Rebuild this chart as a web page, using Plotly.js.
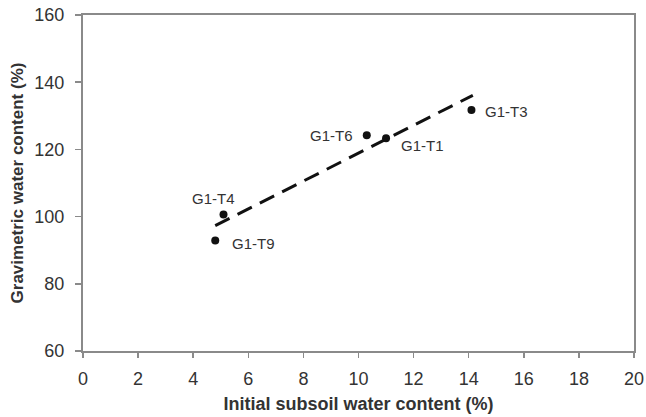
<!DOCTYPE html>
<html>
<head>
<meta charset="utf-8">
<script src="https://cdn.plot.ly/plotly-3.0.1.min.js"></script>
<style>html,body{margin:0;padding:0;background:#fff;}#chart{width:646px;height:417px;}</style>
</head>
<body>
<div id="chart"></div>
<script>
// Data
var sampleNames = ["G1-T3", "G1-T1", "G1-T6", "G1-T4", "G1-T9"];
var subsoilWater = [14.1, 11.0, 10.3, 5.1, 4.8];
var gravimetricWater = [131.7, 123.3, 124.2, 100.6, 92.9];
// dashed fitted line, endpoints as drawn
var fitX = [4.8, 14.15];
var fitY = [97.3, 136.1];
// label offsets (pixels) relative to points
var labelAnchor = ["left", "left", "right", "center", "left"];
var labelDx = [12, 13, -12, -10, 15];
var labelDy = [-1, -7, 0, 16, -3];

var xTicks = [0, 2, 4, 6, 8, 10, 12, 14, 16, 18, 20];
var yTicks = [60, 80, 100, 120, 140, 160];

var fontFam = "Liberation Sans, Arial, sans-serif";

var traces = [
  {
    x: fitX, y: fitY, mode: "lines", type: "scatter",
    line: {color: "#111", width: 3, dash: "16px,9px"},
    hoverinfo: "skip", showlegend: false
  },
  {
    x: subsoilWater, y: gravimetricWater, mode: "markers", type: "scatter",
    marker: {color: "#111", size: 8},
    showlegend: false
  }
];

var annotations = sampleNames.map(function(n, i) {
  return {
    x: subsoilWater[i], y: gravimetricWater[i], xref: "x", yref: "y",
    text: n, showarrow: false, xanchor: labelAnchor[i], yanchor: "middle",
    xshift: labelDx[i], yshift: labelDy[i],
    font: {family: fontFam, size: 15, color: "#333"}
  };
});

var layout = {
  width: 646, height: 417,
  margin: {l: 83, r: 12, t: 15, b: 66},
  paper_bgcolor: "#fff", plot_bgcolor: "#fff",
  showlegend: false,
  annotations: annotations,
  xaxis: {
    range: [0, 20], tickvals: xTicks, ticktext: xTicks.map(String),
    showgrid: false, zeroline: false,
    showline: true, mirror: true, linecolor: "#8a8a8a", linewidth: 2,
    ticks: "outside", ticklen: 5, tickwidth: 1.5, tickcolor: "#8a8a8a",
    ticklabelstandoff: 5,
    tickfont: {family: fontFam, size: 18, color: "#333"},
    title: {text: "<b>Initial subsoil water content (%)</b>", font: {family: fontFam, size: 18, color: "#333"}, standoff: 10}
  },
  yaxis: {
    range: [60, 160], tickvals: yTicks, ticktext: yTicks.map(String),
    showgrid: false, zeroline: false,
    showline: true, mirror: true, linecolor: "#8a8a8a", linewidth: 2,
    ticks: "outside", ticklen: 6, tickwidth: 1.5, tickcolor: "#8a8a8a",
    ticklabelstandoff: 7,
    tickfont: {family: fontFam, size: 18, color: "#333"},
    title: {text: "<b>Gravimetric water content (%)</b>", font: {family: fontFam, size: 17, color: "#333"}, standoff: 6}
  }
};

Plotly.newPlot("chart", traces, layout, {displayModeBar: false, staticPlot: true});
</script>
</body>
</html>
